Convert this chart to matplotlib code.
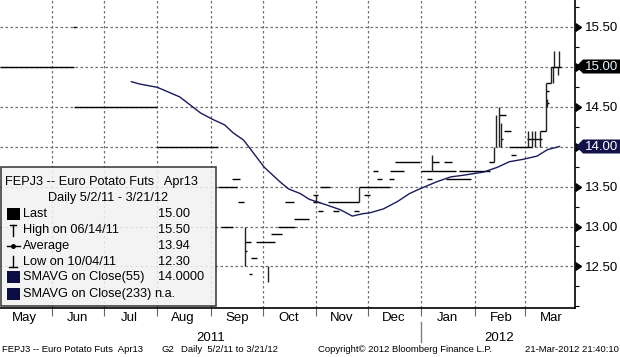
import matplotlib
matplotlib.use("Agg")
import matplotlib.pyplot as plt
import matplotlib.dates as mdates
from matplotlib.ticker import MultipleLocator, FixedLocator, NullFormatter, FuncFormatter
from matplotlib.patches import Rectangle, Polygon
import numpy as np
import pandas as pd

plt.rcParams['font.family'] = ['Liberation Sans', 'DejaVu Sans']

# flat price runs / open-close ticks: start, end, price
seg_start = ["2011-05-02", "2011-06-13", "2011-06-14", "2011-08-01", "2011-09-05", "2011-09-07",
             "2011-09-13", "2011-09-17", "2011-09-21", "2011-09-21", "2011-09-24", "2011-09-23",
             "2011-09-27", "2011-10-06", "2011-10-10", "2011-10-19", "2011-10-14", "2011-10-30",
             "2011-10-30", "2011-11-03", "2011-11-02", "2011-11-08", "2011-11-26", "2011-11-11",
             "2011-11-23", "2011-11-29", "2011-12-04", "2011-12-06", "2011-12-14", "2011-12-13",
             "2011-12-17", "2012-01-01", "2012-01-04", "2012-01-07", "2012-01-14", "2012-01-07",
             "2012-01-23", "2012-01-15", "2012-02-09", "2012-02-15", "2012-02-18", "2012-02-16",
             "2012-02-21", "2012-02-22", "2012-03-02", "2012-03-10", "2012-03-13", "2012-03-13",
             "2012-03-13", "2012-03-16"]
seg_end = ["2011-06-14", "2011-06-15", "2011-08-01", "2011-09-05", "2011-09-16", "2011-09-14",
           "2011-09-18", "2011-09-20", "2011-09-24", "2011-09-22", "2011-09-28", "2011-09-25",
           "2011-10-08", "2011-10-12", "2011-10-20", "2011-10-28", "2011-10-19", "2011-11-02",
           "2011-11-03", "2011-11-09", "2011-11-05", "2011-11-26", "2011-12-14", "2011-11-14",
           "2011-11-26", "2011-12-02", "2011-12-07", "2011-12-09", "2011-12-22", "2011-12-16",
           "2011-12-31", "2012-01-07", "2012-01-07", "2012-01-11", "2012-01-19", "2012-01-21",
           "2012-02-10", "2012-01-30", "2012-02-12", "2012-02-19", "2012-02-22", "2012-02-17",
           "2012-03-05", "2012-02-25", "2012-03-11", "2012-03-13", "2012-03-15", "2012-03-15",
           "2012-03-16", "2012-03-22"]
seg_price = [15.00, 15.50, 14.50, 14.00, 13.50, 13.00,
             13.60, 13.30, 12.80, 12.70, 12.60, 12.40,
             12.80, 12.90, 13.00, 13.10, 13.30, 13.40,
             13.30, 13.50, 13.20, 13.30, 13.50, 13.20,
             13.20, 13.40, 13.70, 13.60, 13.70, 13.60,
             13.80, 13.70, 13.60, 13.80, 13.80, 13.70,
             13.70, 13.60, 13.80, 14.40, 14.20, 14.10,
             14.00, 13.90, 14.10, 14.20, 14.70, 14.55,
             14.80, 15.00]

# high-low bars
bar_date = ["2011-09-21", "2011-10-04", "2011-11-01", "2011-11-26", "2012-01-07", "2012-02-12",
            "2012-02-13", "2012-02-15", "2012-02-16", "2012-03-03", "2012-03-05", "2012-03-07",
            "2012-03-10", "2012-03-13", "2012-03-14", "2012-03-16", "2012-03-17", "2012-03-18",
            "2012-03-20", "2012-03-21"]
bar_low = [12.50, 12.30, 13.30, 13.30, 13.70, 13.80,
           14.00, 14.00, 14.00, 14.00, 14.00, 14.00,
           14.00, 14.20, 14.50, 14.80, 14.80, 15.00,
           14.90, 15.00]
bar_high = [13.00, 12.50, 13.40, 13.50, 13.90, 14.00,
            14.40, 14.50, 14.30, 14.20, 14.20, 14.20,
            14.20, 14.80, 14.60, 15.00, 15.00, 15.20,
            15.00, 15.20]

# SMAVG on close (55)
sma_dates = ["2011-07-17", "2011-07-22", "2011-08-01", "2011-08-14", "2011-08-26", "2011-09-02",
             "2011-09-09", "2011-09-14", "2011-09-20", "2011-09-26", "2011-10-02", "2011-10-11",
             "2011-10-16", "2011-10-23", "2011-10-28", "2011-11-07", "2011-11-15", "2011-11-22",
             "2011-11-28", "2011-12-02", "2011-12-10", "2011-12-18", "2011-12-25", "2011-12-31",
             "2012-01-10", "2012-01-18", "2012-01-25", "2012-02-06", "2012-02-14", "2012-02-21",
             "2012-02-29", "2012-03-08", "2012-03-14", "2012-03-21"]
sma_values = [14.81, 14.78, 14.74, 14.62, 14.42, 14.34,
              14.27, 14.17, 14.08, 13.91, 13.74, 13.56,
              13.47, 13.41, 13.34, 13.27, 13.21, 13.13,
              13.16, 13.17, 13.22, 13.31, 13.41, 13.47,
              13.56, 13.62, 13.64, 13.68, 13.74, 13.81,
              13.84, 13.88, 13.96, 14.00]

y_ticks = [12.5, 13.0, 13.5, 14.0, 14.5, 15.0, 15.5]
tag_values = [15.00, 14.00]
tag_colors = ["black", "#12124a"]
tag_text_colors = ["#e6f2ff", "white"]

legend_rows = ["Last", "High on 06/14/11", "Average", "Low on 10/04/11",
               "SMAVG on Close(55)", "SMAVG on Close(233)"]
legend_vals = ["15.00", "15.50", "13.94", "12.30", "14.0000", "n.a."]


def dnum(s):
    return mdates.date2num(pd.to_datetime(s))


fig = plt.figure(figsize=(6.2, 3.57), dpi=100)
ax = fig.add_axes([0, 49 / 357, 575 / 620, 308 / 357])

navy = "#1a1a5c"
ax.hlines(seg_price, dnum(seg_start), dnum(seg_end), color="black", lw=1.0, zorder=3)
ax.vlines(dnum(bar_date), bar_low, bar_high, color="#222222", lw=1.0, zorder=3)
ax.plot(dnum(sma_dates), sma_values, color=navy, lw=1.0, zorder=4)

t0 = dnum("2011-05-01")
ax.set_xlim(t0 + 0.87, t0 + 334.0)
ax.set_ylim(11.98125, 15.83125)

# axes / ticks
ax.xaxis.set_major_locator(mdates.MonthLocator())
ax.xaxis.set_major_formatter(NullFormatter())
ax.xaxis.set_minor_locator(mdates.MonthLocator(bymonthday=16))
ax.xaxis.set_minor_formatter(mdates.DateFormatter("%b"))
ax.tick_params(axis="x", which="major", length=6, color="#666666", width=0.8)
ax.tick_params(axis="x", which="minor", length=0, pad=3, labelsize=9.5)

ax.yaxis.tick_right()
ax.yaxis.set_major_locator(FixedLocator(y_ticks))
ax.yaxis.set_major_formatter(FuncFormatter(
    lambda v, p: "" if round(v, 2) in tag_values else f"{v:.2f}"))
ax.yaxis.set_minor_locator(MultipleLocator(0.25))
ax.tick_params(axis="y", which="major", length=0, pad=7.3, labelsize=9.5)
ax.tick_params(axis="y", which="minor", length=3, width=0.8, color="black")
ax.plot(np.ones(len(y_ticks)), y_ticks, ls="none", marker=9, ms=6, color="black",
        transform=ax.get_yaxis_transform(), clip_on=False)

ax.grid(True, which="major", color="#707070", lw=0.9, linestyle=(0, (2, 2)))
ax.set_axisbelow(True)
for s in ["top", "left"]:
    ax.spines[s].set_visible(False)
for s in ["right", "bottom"]:
    ax.spines[s].set_linewidth(1.2)
    ax.spines[s].set_color("black")

# years under month labels
xt = ax.get_xaxis_transform()
ax.text(dnum("2011-09-01"), -0.097, "2011", transform=xt, ha="center", va="center", fontsize=9.5)
ax.text(dnum("2012-02-15"), -0.097, "2012", transform=xt, ha="center", va="center", fontsize=9.5)
ax.plot([dnum("2012-01-01")] * 2, [-0.045, -0.11], transform=xt, color="#808080", lw=1.0, clip_on=False)

# overlay in pixel coordinates (top-left origin)
ov = fig.add_axes([0, 0, 1, 1])
ov.set_xlim(0, 620)
ov.set_ylim(357, 0)
ov.axis("off")
ov.patch.set_alpha(0)

# price tags on the right axis
for v, fc, tc in zip(tag_values, tag_colors, tag_text_colors):
    yd = 357 - ax.transData.transform((ax.get_xlim()[0], v))[1]
    ov.add_patch(Polygon([(576, yd), (583, yd - 7), (620, yd - 7), (620, yd + 7), (583, yd + 7)],
                         closed=True, fc=fc, ec="none"))
    ov.text(585, yd, f"{v:.2f}", color=tc, fontsize=9.5, va="center", ha="left")

# legend box
ov.add_patch(Rectangle((1, 167), 215, 139, fc="#f2f2f2", alpha=0.85, ec="#222222", lw=1.2))
fs = 9.2
ov.text(5, 182, "FEPJ3 -- Euro Potato Futs   Apr13", fontsize=fs, va="center", ha="left")
ov.text(108, 198, "Daily 5/2/11 - 3/21/12", fontsize=fs, va="center", ha="center")
row_y = [214, 230, 246, 262, 277, 294]
for y, lab, val in zip(row_y, legend_rows, legend_vals):
    ov.text(23, y, lab, fontsize=fs, va="center", ha="left")
    ov.text(154 if val == "n.a." else 158, y, val, fontsize=fs, va="center", ha="left")
ov.add_patch(Rectangle((7, 208), 13, 12, fc="black", ec="none"))
ov.plot([13, 13], [225, 236], color="black", lw=1.0)
ov.plot([10, 16], [225, 225], color="black", lw=1.0)
ov.plot([7, 20], [246, 246], color="black", lw=1.0)
ov.plot([13], [246], marker="o", ms=2.5, color="black")
ov.plot([13, 13], [256, 267], color="black", lw=1.0)
ov.plot([9, 17], [267, 267], color="black", lw=1.0)
ov.add_patch(Rectangle((7, 271), 13, 12, fc="#0d0d45", ec="none"))
ov.add_patch(Rectangle((7, 288), 13, 12, fc="#0d0d45", ec="none"))

# footer
ffs = 6.8
ov.text(2, 349, "FEPJ3 -- Euro Potato Futs  Apr13", fontsize=ffs, va="center", ha="left")
ov.text(162, 349, "G2", fontsize=ffs, va="center", ha="left")
ov.text(181, 349, "Daily  5/2/11 to 3/21/12", fontsize=ffs, va="center", ha="left")
ov.text(318, 349, "Copyright\u00a9 2012 Bloomberg Finance L.P.", fontsize=ffs, va="center", ha="left")
ov.text(619, 349, "21-Mar-2012 21:40:10", fontsize=ffs, va="center", ha="right")

fig.savefig("out.png", dpi=100)
